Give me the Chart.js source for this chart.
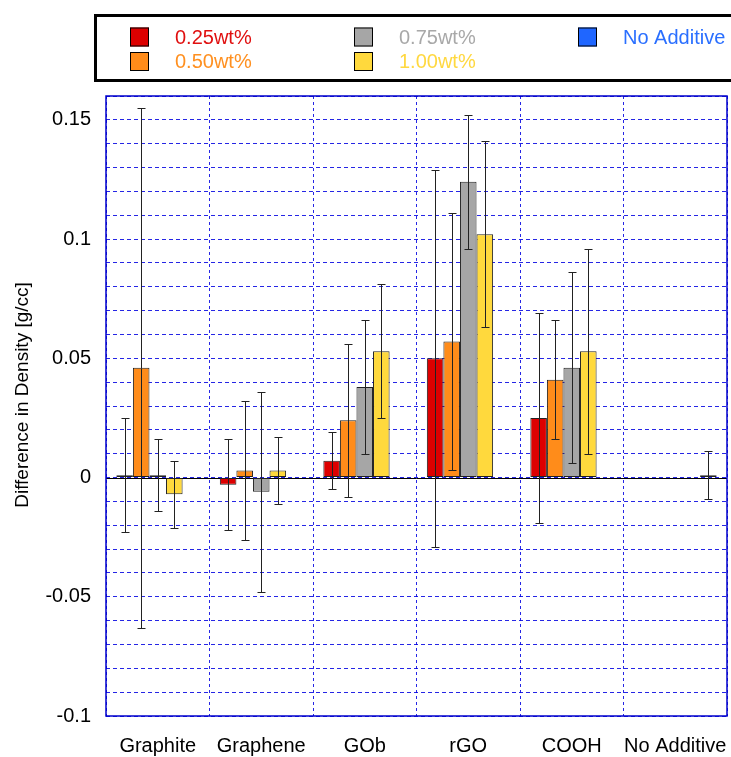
<!DOCTYPE html>
<html>
<head>
<meta charset="utf-8">
<script src="https://cdn.jsdelivr.net/npm/chart.js@4/dist/chart.umd.min.js"></script>
<style>
  html, body { margin: 0; padding: 0; background: #fff; }
  #wrap { width: 731px; height: 757px; position: relative; }
</style>
</head>
<body>
<div id="wrap"><canvas id="c" width="731" height="757"></canvas></div>
<script>
const categories = ['Graphite', 'Graphene', 'GOb', 'rGO', 'COOH', 'No Additive'];
const seriesLabels = ['0.25wt%', '0.50wt%', '0.75wt%', '1.00wt%', 'No Additive'];
const wt025 = [0.001, -0.003, 0.007, 0.050, 0.025, null];
const wt025Err = [0.024, 0.019, 0.012, 0.079, 0.044, null];
const wt050 = [0.046, 0.003, 0.024, 0.057, 0.041, null];
const wt050Err = [0.109, 0.029, 0.032, 0.054, 0.025, null];
const wt075 = [0.001, -0.006, 0.038, 0.124, 0.046, null];
const wt075Err = [0.015, 0.042, 0.028, 0.028, 0.040, null];
const wt100 = [-0.007, 0.003, 0.053, 0.102, 0.053, null];
const wt100Err = [0.014, 0.014, 0.028, 0.039, 0.043, null];
const noAdditive = [null, null, null, null, null, 0.001];
const noAdditiveErr = [null, null, null, null, null, 0.010];
const yTickLabels = ['-0.1', '-0.05', '0', '0.05', '0.1', '0.15'];
const yAxisTitle = 'Difference in Density [g/cc]';

const fillColors = ['#DD0000', '#FF8C1A', '#A6A6A6', '#FFD93D', '#1F66FF'];
const textColors = ['#E01010', '#FF9020', '#A8A8A8', '#FFD840', '#2A6FFF'];
const values = [wt025, wt050, wt075, wt100, noAdditive];
const errors = [wt025Err, wt050Err, wt075Err, wt100Err, noAdditiveErr];

const FONT = '"Liberation Sans", Arial, sans-serif';
const GRID_BLUE = 'rgba(0,0,225,0.85)';

const errorBars = {
  id: 'errorBars',
  afterDatasetsDraw(chart) {
    const ctx = chart.ctx;
    const ys = chart.scales.y;
    ctx.save();
    ctx.strokeStyle = '#222';
    ctx.lineWidth = 1;
    chart.data.datasets.forEach((ds, i) => {
      const meta = chart.getDatasetMeta(i);
      meta.data.forEach((el, j) => {
        const v = ds.data[j];
        const e = errors[i][j];
        if (v == null || e == null) return;
        const x = Math.round(el.x) + 0.5;
        const yt = Math.round(ys.getPixelForValue(v + e)) + 0.5;
        const yb = Math.round(ys.getPixelForValue(v - e)) + 0.5;
        ctx.beginPath();
        ctx.moveTo(x, yt); ctx.lineTo(x, yb);
        ctx.moveTo(x - 4, yt); ctx.lineTo(x + 4, yt);
        ctx.moveTo(x - 4, yb); ctx.lineTo(x + 4, yb);
        ctx.stroke();
      });
    });
    ctx.restore();
  }
};

const frameAndZero = {
  id: 'frameAndZero',
  beforeDatasetsDraw(chart) {
    const ctx = chart.ctx;
    const a = chart.chartArea;
    const y0 = Math.round(chart.scales.y.getPixelForValue(0)) + 0.5;
    ctx.save();
    ctx.strokeStyle = '#000';
    ctx.lineWidth = 1;
    ctx.beginPath();
    ctx.moveTo(a.left, y0); ctx.lineTo(a.right, y0);
    ctx.stroke();
    ctx.restore();
  },
  afterDraw(chart) {
    const ctx = chart.ctx;
    const a = chart.chartArea;
    ctx.save();
    ctx.strokeStyle = '#0000CC';
    ctx.lineWidth = 1.5;
    ctx.strokeRect(a.left, a.top, a.right - a.left, a.bottom - a.top);
    // y-axis title
    ctx.translate(23, 395);
    ctx.rotate(-Math.PI / 2);
    ctx.font = '19px ' + FONT;
    ctx.fillStyle = '#000';
    ctx.textAlign = 'center';
    ctx.textBaseline = 'middle';
    ctx.fillText(yAxisTitle, 0, 0);
    ctx.restore();
  }
};

const boxLegend = {
  id: 'boxLegend',
  afterDraw(chart) {
    const ctx = chart.ctx;
    ctx.save();
    ctx.strokeStyle = '#000';
    ctx.lineWidth = 3;
    ctx.strokeRect(95.5, 15.5, 700, 65);
    const colX = [130, 354, 578];
    const rowY = [37, 61.5];
    ctx.font = '20px ' + FONT;
    ctx.textBaseline = 'middle';
    ctx.textAlign = 'left';
    chart.data.datasets.forEach((ds, i) => {
      const col = Math.floor(i / 2), row = i % 2;
      const x = colX[col], y = rowY[row];
      ctx.fillStyle = ds.backgroundColor;
      ctx.fillRect(x, y - 9.5, 19, 19);
      ctx.lineWidth = 1;
      ctx.strokeStyle = '#000';
      ctx.strokeRect(x + 0.5, y - 9, 18, 18);
      ctx.fillStyle = textColors[i];
      ctx.fillText(ds.label, x + 45, y + 1);
    });
    ctx.restore();
  }
};

new Chart(document.getElementById('c'), {
  type: 'bar',
  data: {
    labels: categories,
    datasets: seriesLabels.map((lab, i) => ({
      label: lab,
      data: values[i],
      backgroundColor: fillColors[i],
      borderColor: '#222',
      borderWidth: 1,
      borderSkipped: false,
      categoryPercentage: 0.8,
      barPercentage: 1.0
    }))
  },
  options: {
    responsive: false,
    animation: false,
    layout: { padding: { top: 96, right: 4, left: 0, bottom: 0 } },
    plugins: { legend: { display: false }, tooltip: { enabled: false } },
    scales: {
      x: {
        grid: {
          display: true, offset: true, drawTicks: false,
          color: GRID_BLUE, lineWidth: 1
        },
        border: { display: false, dash: [3, 3] },
        ticks: { font: { size: 20, family: FONT }, color: '#000', padding: 18, maxRotation: 0, autoSkip: false },
        afterFit(s) { s.height = 41; s.paddingLeft = 0; s.paddingRight = 0; }
      },
      y: {
        min: -0.1, max: 0.16,
        grid: { color: GRID_BLUE, lineWidth: 1, drawTicks: false },
        border: { display: false, dash: [4, 3] },
        ticks: {
          stepSize: 0.01, autoSkip: false,
          font: { size: 20, family: FONT }, color: '#000', padding: 15,
          callback(v) {
            const s = String(Math.round(v * 100) / 100);
            return yTickLabels.includes(s) ? s : '';
          }
        },
        title: { display: false },
        afterFit(s) { s.width = 106; s.paddingTop = 0; s.paddingBottom = 0; }
      }
    }
  },
  plugins: [frameAndZero, errorBars, boxLegend]
});
</script>
</body>
</html>
